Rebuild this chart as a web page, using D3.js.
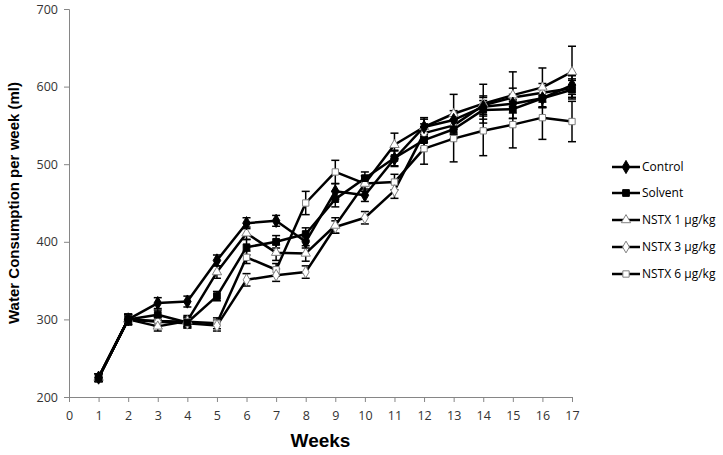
<!DOCTYPE html>
<html>
<head>
<meta charset="utf-8">
<script src="https://cdn.jsdelivr.net/npm/d3@7"></script>
<style>
  body { margin: 0; background: #fff; }
  text { font-family: "Open Sans", sans-serif; }
</style>
</head>
<body>
<div id="chart"></div>
<script>
var weeks = [1, 2, 3, 4, 5, 6, 7, 8, 9, 10, 11, 12, 13, 14, 15, 16, 17];
var xTicks = d3.range(0, 18);
var yTicks = [200, 300, 400, 500, 600, 700];

var control = [225, 300, 321, 323, 376, 424, 427, 400, 465, 460, 507, 548, 557, 574, 578, 585, 602];
var solvent = [225, 300, 306, 296, 330, 393, 400, 410, 455, 482, 508, 531, 545, 570, 571, 585, 596];
var nstx1 = [225, 300, 291, 298, 361, 411, 386, 385, 421, 475, 525, 548, 565, 578, 589, 599, 619];
var nstx3 = [225, 300, 297, 295, 292, 351, 357, 361, 419, 431, 466, 540, 550, 576, 586, 592, 598];
var nstx6 = [225, 300, 298, 297, 295, 380, 364, 450, 490, 475, 477, 520, 533, 543, 551, 560, 555];

var controlErr = [5, 7, 7, 7, 7, 7, 7, 8, 10, 8, 10, 10, 12, 12, 12, 12, 12];
var solventErr = [5, 7, 6, 7, 6, 10, 8, 8, 10, 8, 10, 10, 12, 12, 12, 12, 12];
var nstx1Err = [5, 6, 6, 7, 8, 8, 10, 10, 10, 10, 15, 12, 25, 25, 30, 25, 33];
var nstx3Err = [5, 6, 6, 6, 7, 8, 8, 8, 8, 8, 10, 12, 12, 12, 12, 12, 12];
var nstx6Err = [5, 6, 6, 6, 7, 8, 8, 15, 15, 10, 10, 20, 30, 32, 30, 28, 26];

var seriesNames = ["Control", "Solvent", "NSTX 1 μg/kg", "NSTX 3 μg/kg", "NSTX 6 μg/kg"];
var seriesValues = [control, solvent, nstx1, nstx3, nstx6];
var seriesErrs = [controlErr, solventErr, nstx1Err, nstx3Err, nstx6Err];
var markers = [
  { type: d3.symbolDiamond, size: 50, fill: "#000", stroke: "#000" },
  { type: d3.symbolSquare, size: 45, fill: "#000", stroke: "#000" },
  { type: d3.symbolTriangle, size: 38, fill: "#fff", stroke: "#808080" },
  { type: d3.symbolDiamond, size: 40, fill: "#fff", stroke: "#808080" },
  { type: d3.symbolSquare, size: 40, fill: "#fff", stroke: "#808080" }
];

var width = 723, height = 455;
var margin = { left: 69, top: 9, right: 151, bottom: 58 };

var svg = d3.select("#chart")
    .append("svg")
    .attr("width", width)
    .attr("height", height);

var x = d3.scaleLinear()
    .domain([0, 17])
    .range([margin.left, width - margin.right]);

var y = d3.scaleLinear()
    .domain([200, 700])
    .range([height - margin.bottom, margin.top]);

// axes
var xAxis = svg.append("g")
    .attr("transform", `translate(0,${y(200)})`)
    .call(d3.axisBottom(x).tickValues(xTicks).tickSize(5).tickPadding(9).tickFormat(d3.format("d")));

var yAxis = svg.append("g")
    .attr("transform", `translate(${x(0)},0)`)
    .call(d3.axisLeft(y).tickValues(yTicks).tickSize(5).tickPadding(6));

[xAxis, yAxis].forEach(function (g) {
    g.select(".domain").attr("stroke", "#868686").attr("stroke-width", 1);
    g.selectAll(".tick line").attr("stroke", "#868686");
    g.selectAll(".tick text")
        .attr("fill", "#333")
        .style("font-size", "12.5px")
        .style("font-family", "Open Sans, sans-serif");
});

// error bars
seriesValues.forEach(function (vals, i) {
    var errs = seriesErrs[i];
    var g = svg.append("g").attr("stroke", "#000").attr("stroke-width", 1.5);
    weeks.forEach(function (w, j) {
        var cx = x(w), top = y(vals[j] + errs[j]), bot = y(vals[j] - errs[j]);
        g.append("line").attr("x1", cx).attr("x2", cx).attr("y1", top).attr("y2", bot);
        g.append("line").attr("x1", cx - 4).attr("x2", cx + 4).attr("y1", top).attr("y2", top);
        g.append("line").attr("x1", cx - 4).attr("x2", cx + 4).attr("y1", bot).attr("y2", bot);
    });
});

// lines
var line = d3.line()
    .x(function (d, j) { return x(weeks[j]); })
    .y(function (d) { return y(d); });

seriesValues.forEach(function (vals) {
    svg.append("path")
        .datum(vals)
        .attr("d", line)
        .attr("fill", "none")
        .attr("stroke", "#000")
        .attr("stroke-width", 2.5)
        .attr("stroke-linejoin", "round");
});

// markers, open ones first so the filled ones sit on top
d3.range(seriesValues.length - 1, -1, -1).forEach(function (i) {
    var m = markers[i];
    var sym = d3.symbol().type(m.type).size(m.size);
    svg.append("g").selectAll("path")
        .data(seriesValues[i])
        .enter()
        .append("path")
        .attr("d", sym)
        .attr("transform", function (d, j) { return `translate(${x(weeks[j])},${y(d)})`; })
        .attr("fill", m.fill)
        .attr("stroke", m.stroke)
        .attr("stroke-width", 1);
});

// legend
var legendY = [167, 193, 220, 247, 274];
var legend = svg.append("g");
seriesNames.forEach(function (name, i) {
    var ly = legendY[i];
    var m = markers[i];
    legend.append("line")
        .attr("x1", 612).attr("x2", 640)
        .attr("y1", ly).attr("y2", ly)
        .attr("stroke", "#000").attr("stroke-width", 2.5);
    legend.append("path")
        .attr("d", d3.symbol().type(m.type).size(m.size)())
        .attr("transform", `translate(626,${ly})`)
        .attr("fill", m.fill)
        .attr("stroke", m.stroke);
    legend.append("text")
        .attr("x", 642)
        .attr("y", ly)
        .attr("dy", "0.35em")
        .style("font-size", "12px")
        .attr("fill", "#000")
        .text(name);
});

// axis titles
svg.append("text")
    .attr("x", x(8.5))
    .attr("y", 447)
    .attr("text-anchor", "middle")
    .style("font-size", "19px")
    .style("font-weight", "bold")
    .style("font-family", "Liberation Sans, Arial, sans-serif")
    .text("Weeks");

svg.append("text")
    .attr("transform", `translate(19,${y(450)}) rotate(-90)`)
    .attr("text-anchor", "middle")
    .style("font-size", "15px")
    .style("font-weight", "bold")
    .style("font-family", "Liberation Sans, Arial, sans-serif")
    .text("Water Consumption per week (ml)");
</script>
</body>
</html>
